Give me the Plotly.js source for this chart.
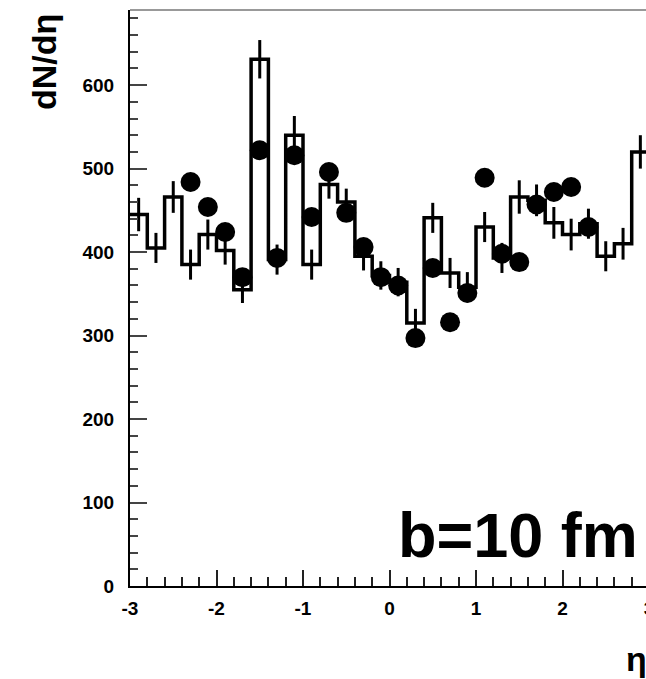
<!DOCTYPE html>
<html>
<head>
<meta charset="utf-8">
<script src="https://cdn.plot.ly/plotly-3.0.1.min.js"></script>
<style>
html,body{margin:0;padding:0;overflow:hidden;background:#fff;}
#chart{width:660px;height:679px;}
</style>
</head>
<body>
<div id="chart"></div>
<script>
// Histogram (model) : 30 bins from -3 to 3
const binLow = [-3.0,-2.8,-2.6,-2.4,-2.2,-2.0,-1.8,-1.6,-1.4,-1.2,-1.0,-0.8,-0.6,-0.4,-0.2,
                 0.0, 0.2, 0.4, 0.6, 0.8, 1.0, 1.2, 1.4, 1.6, 1.8, 2.0, 2.2, 2.4, 2.6, 2.8];
const binHigh = 3.0;
const histValues = [445,405,466,385,421,402,355,631,391,540,385,481,460,395,372,
                    364,315,441,375,358,430,393,466,462,435,421,434,395,410,520];
const histErrors = [20,18,19,18,18,17,16,23,18,23,18,17,16,17,17,
                    17,17,18,18,18,18,18,20,19,19,19,18,18,19,20];

// Data points (filled circles)
const dataEta = [-2.3,-2.1,-1.9,-1.7,-1.5,-1.3,-1.1,-0.9,-0.7,-0.5,-0.3,-0.1,
                  0.1, 0.3, 0.5, 0.7, 0.9, 1.1, 1.3, 1.5, 1.7, 1.9, 2.1, 2.3];
const dataValues = [484,454,424,370,522,393,516,442,496,447,406,370,
                    360,297,381,316,351,489,398,388,457,472,478,430];

const xTickVals = [-3,-2,-1,0,1,2,3];
const xTickText = ['-3','-2','-1','0','1','2','3'];
const yTickVals = [0,100,200,300,400,500,600];
const yTickText = ['0','100','200','300','400','500','600'];

// derived
const stepX = binLow.concat([binHigh]);
const stepY = histValues.concat([histValues[histValues.length-1]]);
const binCenters = binLow.map((lo,i)=> (lo + (i+1<binLow.length?binLow[i+1]:binHigh))/2);

const traces = [
  {x: stepX, y: stepY, type:'scatter', mode:'lines',
   line:{shape:'hv', color:'#000', width:3.5}, hoverinfo:'skip'},
  {x: binCenters, y: histValues, type:'scatter', mode:'markers',
   marker:{size:1, color:'#000'},
   error_y:{type:'data', array: histErrors, visible:true, thickness:3, width:0, color:'#000'}},
  {x: dataEta, y: dataValues, type:'scatter', mode:'markers',
   marker:{symbol:'circle', size:20, color:'#000'}}
];

const tickFont = {family:'Liberation Sans, Arial, sans-serif', size:19, color:'#000', weight:'bold'};

const layout = {
  width:660, height:679,
  margin:{l:130, r:11, t:10, b:93},
  paper_bgcolor:'#fff', plot_bgcolor:'#fff',
  showlegend:false,
  xaxis:{range:[-3,3], tickvals:xTickVals, ticktext:xTickText, ticks:'inside', ticklen:16, tickwidth:2, tickcolor:'#222',
         minor:{dtick:0.2, ticks:'inside', ticklen:9, tickwidth:2, tickcolor:'#222'},
         showline:true, linecolor:'#000', linewidth:2, showgrid:false, zeroline:false,
         tickfont:tickFont, ticklabelstandoff:4},
  yaxis:{range:[0,690], tickvals:yTickVals, ticktext:yTickText, ticks:'inside', ticklen:17, tickwidth:2, tickcolor:'#444',
         minor:{dtick:20, ticks:'inside', ticklen:8, tickwidth:2, tickcolor:'#444'},
         showline:true, linecolor:'#000', linewidth:2, showgrid:false, zeroline:false,
         tickfont:tickFont, ticklabelstandoff:10},
  shapes:[{type:'line', xref:'paper', yref:'paper', x0:0, x1:1, y0:1, y1:1,
           line:{color:'#999', width:2}}],
  annotations:[
    {text:'dN/dη', xref:'paper', yref:'paper', x:0, y:1, xshift:-86, yshift:-52,
     xanchor:'center', yanchor:'middle', textangle:-90, showarrow:false,
     font:{family:'Liberation Sans, Arial, sans-serif', size:34, color:'#000', weight:'bold'}},
    {text:'b=10 fm', xref:'paper', yref:'paper', x:0.9827, y:0.0825, yshift:3,
     xanchor:'right', yanchor:'middle', showarrow:false,
     font:{family:'Liberation Sans, Arial, sans-serif', size:63, color:'#000', weight:'bold'}},
    {text:'η', xref:'paper', yref:'paper', x:1, y:0, yshift:-52, xanchor:'right', yanchor:'top',
     showarrow:false,
     font:{family:'Liberation Sans, Arial, sans-serif', size:34, color:'#000', weight:'bold'}}
  ]
};

Plotly.newPlot('chart', traces, layout, {displayModeBar:false, staticPlot:true});
</script>
</body>
</html>
